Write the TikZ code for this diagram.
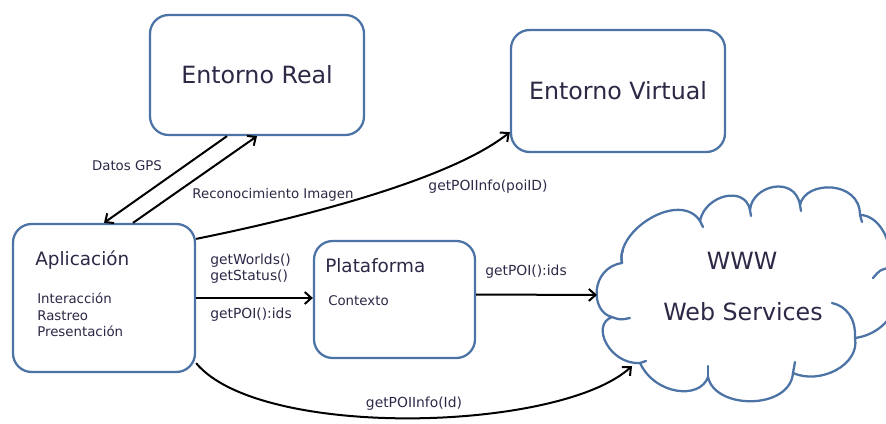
\documentclass[tikz,border=0pt]{standalone}
\usepackage{fontspec}
\setmainfont{DejaVu Sans}
\usetikzlibrary{arrows.meta,calc}

\definecolor{ink}{HTML}{2B2946}
\definecolor{frame}{HTML}{4C73A6}

\tikzset{
  box/.style={draw=frame, line width=1.7pt, rounded corners=14pt, fill=white,
              inner sep=0pt, text=ink},
  bigtxt/.style={font=\fontsize{17.8}{21}\selectfont, text=ink, inner sep=0pt},
  midtxt/.style={font=\fontsize{13.8}{16}\selectfont, text=ink, inner sep=0pt},
  smalltxt/.style={font=\fontsize{10}{12.4}\selectfont, text=ink, inner sep=0pt, align=left},
  lbl/.style={font=\fontsize{10.4}{12.4}\selectfont, text=ink, inner sep=0pt, align=left},
  arr/.style={draw=black, line width=1.5pt, -{Straight Barb[length=5pt,width=9pt]}},
  cloudline/.style={draw=frame, line width=1.7pt, line cap=round, line join=round}
}

\begin{document}
\begin{tikzpicture}[x=0.75pt,y=-0.75pt]
  \useasboundingbox (0,0) rectangle (886,424);
  \clip (0,0) rectangle (886,424);

  % boxes
  \node[box, minimum width=160.5pt, minimum height=90pt] (real) at (257,75)
       {\fontsize{17.8}{21}\selectfont Entorno Real};
  \node[box, minimum width=160.5pt, minimum height=91.5pt] (virtual) at (618,91)
       {\fontsize{17.8}{21}\selectfont Entorno Virtual};
  \node[box, minimum width=136.5pt, minimum height=111pt] (app) at (104,298) {};
  \node[box, minimum width=120.75pt, minimum height=87.75pt] (plat) at (394.5,299.5) {};

  % box contents
  \node[midtxt, anchor=west] (apptitle) at (35,260) {Aplicación};
  \node[smalltxt, anchor=north west] (applist) at (37,293)
       {Interacción\\Rastreo\\Presentación};
  \node[midtxt, anchor=west] (plattitle) at (325,266) {Plataforma};
  \node[smalltxt, anchor=west] (platctx) at (328,301) {Contexto};

  % cloud outline
  \coordinate (cA) at (612,317);
  \coordinate (cB) at (622,263);
  \coordinate (cC) at (700,221);
  \coordinate (cD) at (750,210);
  \coordinate (cE) at (800,205);
  \coordinate (cF) at (860,215);
  \coordinate (cK) at (888,268);
  \coordinate (cG) at (855,338);
  \coordinate (cH) at (793,373);
  \coordinate (cJ) at (708,377);
  \coordinate (cI) at (640,363);
  \path[cloudline, fill=white]
    (cA) .. controls (590,312) and (590,268) .. (cB)
         .. controls (615,230) and (680,190) .. (cC)
         .. controls (705,195) and (745,185) .. (cD)
         .. controls (752,185) and (795,175) .. (cE)
         .. controls (805,180) and (860,180) .. (cF)
         .. controls (880,215) and (895,245) .. (cK)
         .. controls (910,282) and (898,332) .. (cG)
         .. controls (860,365) and (820,385) .. (cH)
         .. controls (790,410) and (715,410) .. (cJ)
         .. controls (700,400) and (655,395) .. (cI)
         .. controls (610,365) and (590,325) .. (cA) -- cycle;
  % inner puff ends
  \draw[cloudline] (cA) .. controls (620,320) .. (630,318);
  \draw[cloudline] (cB) .. controls (621,256) .. (623,250);
  \draw[cloudline] (cC) -- (703,227);
  \draw[cloudline] (cD) -- (751,216);
  \draw[cloudline] (cE) -- (801,211);
  \draw[cloudline] (cF) -- (862,222);
  \draw[cloudline] (cK) .. controls (880,270) .. (873,278);
  \draw[cloudline] (cG) .. controls (856,318) and (846,306) .. (832,303);
  \draw[cloudline] (cH) -- (795,362);
  \draw[cloudline] (cJ) -- (708,366);
  \draw[cloudline] (cI) -- (646,361);

  \node[bigtxt] (www) at (742,261) {WWW};
  \node[bigtxt] (ws) at (743,312) {Web Services};

  \coordinate (cloudW) at (597,295);
  \coordinate (cloudSW) at (632,366);

  % connectors
  \draw[arr] ($(real.south)+(-30,0)$) -- (app.north);
  \draw[arr] ($(app.north)+(29,0)$) -- (real.south);
  \draw[arr] ($(app.north east)+(0,16)$) .. controls (300,218) and (450,180) ..
             ($(virtual.south west)+(0,-21)$);
  \draw[arr] (app.east) -- (app.east -| plat.west);
  \draw[arr] ($(plat.east)+(0,-5)$) -- (cloudW);
  \draw[arr] ($(app.south east)+(0,-10)$) .. controls (260,440) and (560,432) .. (cloudSW);

  % connector labels
  \node[smalltxt] (lgps) at (127,166) {Datos GPS};
  \node[smalltxt] (limg) at (273,195) {Reconocimiento Imagen};
  \node[lbl] (lpoiid) at (488,187) {getPOIInfo(poiID)};
  \node[lbl, anchor=west] (lworlds) at (210,261) {getWorlds()};
  \node[lbl, anchor=west] (lstatus) at (210,277) {getStatus()};
  \node[lbl, anchor=west] (lpoi1) at (210,315) {getPOI():ids};
  \node[lbl, anchor=west] (lpoi2) at (485,272) {getPOI():ids};
  \node[lbl] (lid) at (414,404) {getPOIInfo(Id)};
\end{tikzpicture}
\end{document}
